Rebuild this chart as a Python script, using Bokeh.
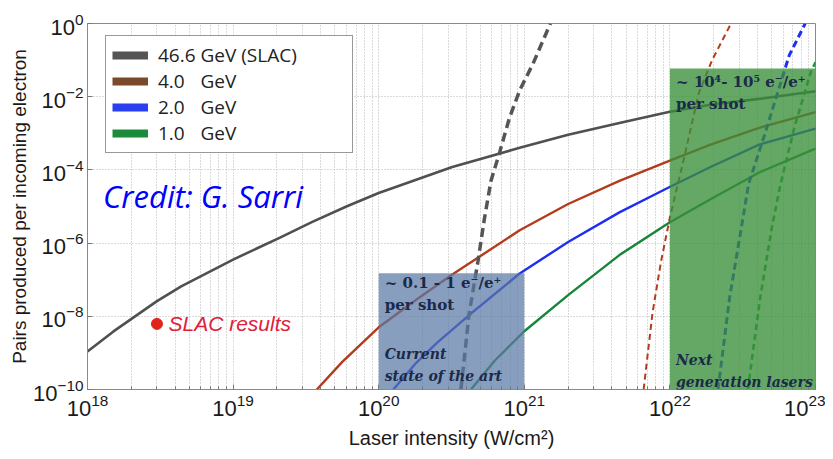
from bokeh.plotting import figure
from bokeh.models import Range1d, FixedTicker, Legend, LegendItem, Label
from bokeh.embed import file_html
from bokeh.resources import INLINE

# ---------------- data ----------------
series_names = ["46.6 GeV (SLAC)", "4.0\u2007 GeV", "2.0\u2007 GeV", "1.0\u2007 GeV"]

# solid curves: laser intensity (W/cm^2) -> pairs per incoming electron
gray_x = [1.0e18, 1.5e18, 3.0e18, 4.4e18, 1.0e19, 2.1e19, 3.5e19, 6.0e19, 1.0e20,
          3.2e20, 9.3e20, 2.0e21, 4.5e21, 9.8e21, 1.9e22, 4.1e22, 1.0e23]
gray_y = [1.1e-9, 3.8e-9, 2.6e-8, 6.6e-8, 3.55e-7, 1.41e-6, 3.8e-6, 1.0e-5, 2.34e-5,
          1.2e-4, 4.0e-4, 9.1e-4, 1.9e-3, 3.8e-3, 6.0e-3, 8.7e-3, 1.41e-2]

brown_x = [3.76e19, 5.6e19, 1.0e20, 1.8e20, 3.2e20, 9.3e20, 2.0e21, 4.5e21, 9.8e21,
           1.9e22, 4.1e22, 1.0e23]
brown_y = [1.0e-10, 5.6e-10, 5.0e-9, 2.8e-8, 1.38e-7, 2.24e-6, 1.17e-5, 5.0e-5, 1.74e-4,
           4.9e-4, 1.41e-3, 3.8e-3]

blue_x = [1.26e20, 1.78e20, 2.5e20, 4.2e20, 9.3e20, 2.0e21, 4.5e21, 9.8e21, 1.9e22,
          4.1e22, 1.0e23]
blue_y = [1.0e-10, 5.0e-10, 1.86e-9, 1.1e-8, 1.48e-7, 1.07e-6, 6.9e-6, 3.3e-5, 1.2e-4,
          4.9e-4, 1.35e-3]

green_x = [4.3e20, 6.3e20, 1.0e21, 2.0e21, 4.5e21, 1.0e22, 1.9e22, 4.1e22, 1.0e23]
green_y = [1.0e-10, 6.3e-10, 3.9e-9, 3.8e-8, 4.7e-7, 3.7e-6, 1.58e-5, 8.5e-5, 3.8e-4]

# dashed curves
gray_dash_x = [3.67e20, 4.17e20, 4.8e20, 5.3e20, 5.9e20, 6.8e20, 7.9e20, 9.3e20, 1.15e21, 1.51e21]
gray_dash_y = [1.0e-10, 1.1e-8, 3.1e-7, 4.2e-6, 5.0e-5, 3.2e-4, 2.6e-3, 1.5e-2, 8.1e-2, 1.0]

brown_dash_x = [6.6e21, 7.6e21, 8.7e21, 1.0e22, 1.26e22, 1.58e22, 1.95e22, 2.63e22]
brown_dash_y = [1.0e-10, 1.26e-8, 3.2e-7, 5.0e-6, 2.4e-4, 1.26e-2, 0.1, 1.0]

blue_dash_x = [2.14e22, 2.57e22, 3.09e22, 3.47e22, 4.47e22, 6.6e22, 8.5e22]
blue_dash_y = [1.0e-10, 3.2e-8, 2.5e-6, 4.1e-5, 9.1e-4, 0.135, 1.0]

green_dash_x = [3.43e22, 4.17e22, 5.0e22, 5.75e22, 7.2e22, 9.3e22, 1.0e23]
green_dash_y = [1.0e-10, 3.2e-8, 2.5e-6, 4.1e-5, 1.58e-3, 4.8e-2, 8.7e-2]

# SLAC measurement
slac_x = [3.0e18]
slac_y = [6.2e-9]

# shaded regions (current state of the art, next generation lasers)
box_left = [1.0e20, 1.0e22]
box_right = [1.0e21, 1.0e23]
box_bottom = [1.0e-10, 1.0e-10]
box_top = [1.5e-7, 5.9e-2]

x_ticks = [1e18, 1e19, 1e20, 1e21, 1e22, 1e23]
x_minor = [k * 10.0 ** n for n in range(18, 23) for k in range(2, 10)]
y_ticks = [1e-10, 1e-8, 1e-6, 1e-4, 1e-2, 1e0]

# ---------------- figure ----------------
p = figure(width=825, height=451, x_axis_type="log", y_axis_type="log",
           x_range=Range1d(1e18, 1e23), y_range=Range1d(1e-10, 1.0),
           output_backend="svg", toolbar_location=None,
           min_border_left=87, min_border_right=10, min_border_top=23, min_border_bottom=59,
           background_fill_color="white", border_fill_color="white")

p.outline_line_color = "#8a8a8a"
p.xaxis.ticker = FixedTicker(ticks=x_ticks, minor_ticks=x_minor)
p.yaxis.ticker = FixedTicker(ticks=y_ticks, minor_ticks=[])

for ax in (p.xaxis[0], p.yaxis[0]):
    ax.axis_line_color = "#8a8a8a"
    ax.major_tick_line_color = "#777777"
    ax.minor_tick_line_color = "#777777"
    ax.major_tick_in = 5
    ax.major_tick_out = 0
    ax.minor_tick_in = 3
    ax.minor_tick_out = 0
    ax.major_label_text_font = "Liberation Sans"
    ax.major_label_text_font_size = "22px"
    ax.major_label_text_color = "#1a1a1a"
    ax.major_label_standoff = 4
    ax.axis_label_text_font = "Liberation Sans"
    ax.axis_label_text_font_style = "normal"
    ax.axis_label_text_color = "#1a1a1a"

p.xaxis.axis_label = "Laser intensity (W/cm\u00b2)"
p.yaxis.axis_label = "Pairs produced per incoming electron"
p.xaxis.axis_label_text_font_size = "20px"
p.yaxis.axis_label_text_font_size = "19px"
p.xaxis.axis_label_standoff = 8
p.yaxis.axis_label_standoff = 0

for g in (p.xgrid[0], p.ygrid[0]):
    g.grid_line_color = "#b5b5b5"
    g.grid_line_dash = "1 2"
    g.grid_line_width = 1
p.xgrid.minor_grid_line_color = "#b5b5b5"
p.xgrid.minor_grid_line_dash = "1 2"

# curves
p.line(gray_x, gray_y, line_color="#505050", line_width=2.6)
p.line(brown_x, brown_y, line_color="#b23c1c", line_width=2.4)
p.line(blue_x, blue_y, line_color="#1f2ef0", line_width=2.4)
p.line(green_x, green_y, line_color="#17853a", line_width=2.4)

p.line(gray_dash_x, gray_dash_y, line_color="#555555", line_width=3.5, line_dash="9 5")
p.line(brown_dash_x, brown_dash_y, line_color="#b23c1c", line_width=2.0, line_dash="6 4")
p.line(blue_dash_x, blue_dash_y, line_color="#1f2ef0", line_width=3.0, line_dash="7 4")
p.line(green_dash_x, green_dash_y, line_color="#17953a", line_width=2.6, line_dash="6 4")

# shaded regions
p.quad(left=box_left, right=box_right, bottom=box_bottom, top=box_top,
       fill_color=["#5a78a5", "#3a8f3a"], fill_alpha=[0.72, 0.78], line_color=None)

# SLAC point
p.scatter(slac_x, slac_y, size=11, color="#e0241c")

navy = "#1b2a48"
annotations = [
    (1.1e20, 7.9e-8, "~ 0.1 - 1 e\u207b/e\u207a", "bold", "15px"),
    (1.1e20, 2.1e-8, "per shot", "bold", "15px"),
    (1.1e20, 9.5e-10, "Current", "bold italic", "14px"),
    (1.1e20, 2.4e-10, "state of the art", "bold italic", "14px"),
    (1.1e22, 2.5e-2, "~ 10\u2074- 10\u2075 e\u207b/e\u207a", "bold", "15px"),
    (1.1e22, 6.3e-3, "per shot", "bold", "15px"),
    (1.1e22, 6.5e-10, "Next", "bold italic", "14px"),
    (1.1e22, 1.65e-10, "generation lasers", "bold italic", "14px"),
]
for ax_, ay_, txt, style, fs in annotations:
    p.add_layout(Label(x=ax_, y=ay_, text=txt, text_font="DejaVu Serif",
                       text_font_style=style, text_font_size=fs,
                       text_color=navy, text_baseline="middle"))

p.add_layout(Label(x=1.28e18, y=1.9e-5, text="Credit: G. Sarri", text_font="Open Sans",
                   text_font_style="italic", text_font_size="31px", text_color="#0000ff",
                   text_baseline="middle"))
p.add_layout(Label(x=3.6e18, y=6.2e-9, text="SLAC results", text_font="Liberation Sans",
                   text_font_style="italic", text_font_size="21px", text_color="#e0203a",
                   text_baseline="middle"))

# legend with thick swatches (dummy one-point renderers, outside the view)
legend_colors = ["#555555", "#7b4a2a", "#2a3ff0", "#1c8c3c"]
items = []
for name, col in zip(series_names, legend_colors):
    r = p.line(x=[1e10], y=[1e-20], line_color=col, line_width=8)
    items.append(LegendItem(label=name, renderers=[r]))
legend = Legend(items=items, location=(18, 236), orientation="vertical",
                border_line_color="#333333", border_line_width=1.5,
                background_fill_color="white", background_fill_alpha=1.0,
                label_text_font="Open Sans", label_text_font_size="19px",
                label_text_color="#222222", glyph_width=36, glyph_height=20,
                label_height=20, label_width=188, label_standoff=10,
                spacing=0, padding=6, margin=0)
p.add_layout(legend)

open("out.html", "w").write(file_html(p, INLINE))
